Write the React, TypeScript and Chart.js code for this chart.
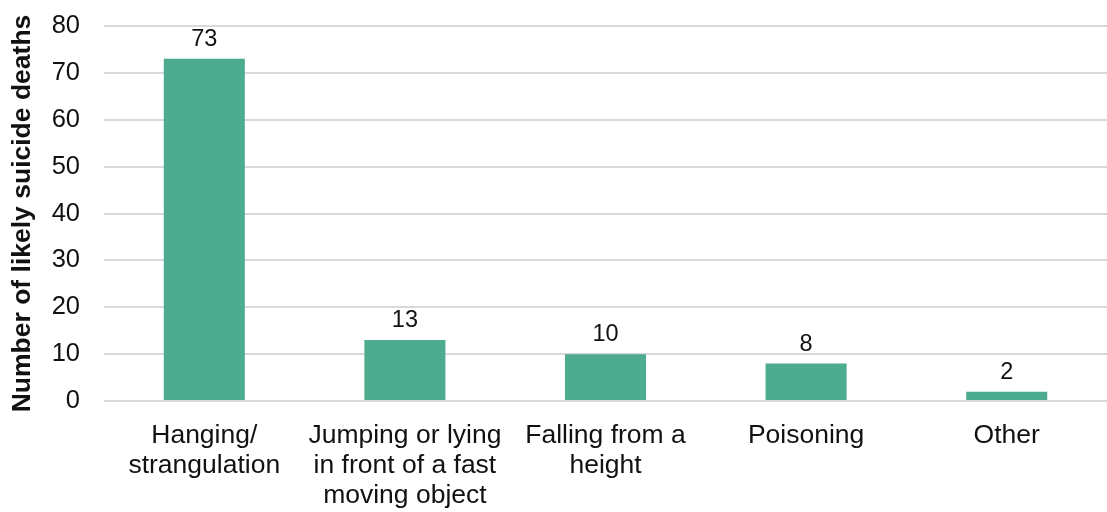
import React, { useEffect, useRef } from "react";
import { Chart, registerables } from "chart.js";

Chart.register(...registerables);

const categories: (string | string[])[] = [
  ["Hanging/", "strangulation"],
  ["Jumping or lying", "in front of a fast", "moving object"],
  ["Falling from a", "height"],
  "Poisoning",
  "Other",
];
const deaths: number[] = [73, 13, 10, 8, 2];
const yTicks: number[] = [0, 10, 20, 30, 40, 50, 60, 70, 80];

const FONT = "'Liberation Sans', Arial, Helvetica, sans-serif";
const BAR_COLOR = "#4dab8f";
const TEXT_COLOR = "#111";

// Writes each bar's value above it
const valueLabels = {
  id: "valueLabels",
  afterDatasetsDraw(chart: any) {
    const ctx = chart.ctx;
    const meta = chart.getDatasetMeta(0);
    ctx.save();
    ctx.font = `23.5px ${FONT}`;
    ctx.fillStyle = TEXT_COLOR;
    ctx.textAlign = "center";
    ctx.textBaseline = "alphabetic";
    meta.data.forEach((bar: any, i: number) => {
      ctx.fillText(String(deaths[i]), bar.x, bar.y - 13);
    });
    ctx.restore();
  },
};

export default function App() {
  const canvasRef = useRef<HTMLCanvasElement | null>(null);

  useEffect(() => {
    if (!canvasRef.current) return;
    const chart = new Chart(canvasRef.current, {
      type: "bar",
      data: {
        labels: categories,
        datasets: [
          {
            data: deaths,
            backgroundColor: BAR_COLOR,
            borderWidth: 0,
            categoryPercentage: 1,
            barPercentage: 0.404,
          },
        ],
      },
      options: {
        responsive: false,
        animation: false,
        layout: { padding: { top: 26, left: 0, right: 0, bottom: 0 } },
        plugins: {
          legend: { display: false },
          tooltip: { enabled: false },
        },
        scales: {
          x: {
            grid: { display: false, drawTicks: false },
            border: { display: false },
            ticks: {
              color: TEXT_COLOR,
              font: { family: FONT, size: 26.5, lineHeight: 1.13 },
              padding: 20,
              maxRotation: 0,
              autoSkip: false,
            },
            afterFit(scale: any) {
              scale.height = 111;
              scale.paddingLeft = 0;
              scale.paddingRight = 0;
            },
          },
          y: {
            min: 0,
            max: 80,
            afterBuildTicks(scale: any) {
              scale.ticks = yTicks.map((v) => ({ value: v }));
            },
            grid: { color: "#d9d9d9", lineWidth: 2, drawTicks: false },
            border: { display: false },
            ticks: {
              color: TEXT_COLOR,
              font: { family: FONT, size: 25.5 },
              padding: 24,
            },
            title: {
              display: true,
              text: "Number of likely suicide deaths",
              color: TEXT_COLOR,
              font: { family: FONT, size: 26.5, weight: "bold", lineHeight: 1.1 },
              padding: { top: 8, bottom: 0 },
            },
            afterFit(scale: any) {
              scale.width = 104;
              scale.paddingTop = 0;
              scale.paddingBottom = 0;
            },
          },
        },
      },
      plugins: [valueLabels],
    });
    return () => chart.destroy();
  }, []);

  return (
    <div style={{ position: "fixed", left: 0, top: 0, width: 1107, height: 512, background: "#fff" }}>
      <canvas ref={canvasRef} width={1107} height={512} style={{ display: "block" }} />
    </div>
  );
}
